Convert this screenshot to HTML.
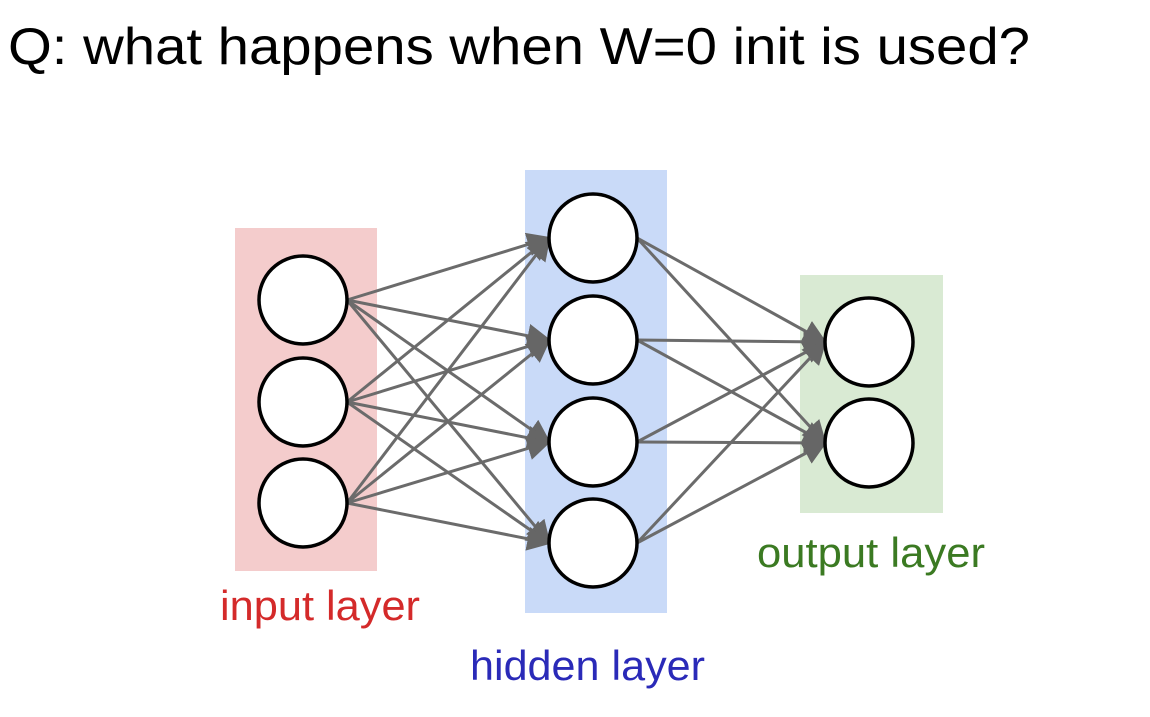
<!DOCTYPE html>
<html><head><meta charset="utf-8"><style>
html,body{margin:0;padding:0;background:#fff;width:1150px;height:717px;overflow:hidden}
</style></head><body>
<svg width="1150" height="717" xmlns="http://www.w3.org/2000/svg" font-family="Liberation Sans, Arial, sans-serif">
<text x="8" y="64" font-size="52" fill="#000" textLength="1022" lengthAdjust="spacingAndGlyphs">Q: what happens when W=0 init is used?</text>
<rect x="235" y="228" width="142" height="343" fill="#f4cccc"/>
<rect x="525" y="170" width="142" height="443" fill="#c9daf8"/>
<rect x="800" y="275" width="143" height="238" fill="#d9ead3"/>
<defs>
<marker id="b" viewBox="0 0 10 10" refX="9" refY="5" markerWidth="24" markerHeight="24" markerUnits="userSpaceOnUse" orient="auto"><path d="M0,0 L10,5 L0,10 z" fill="#666"/></marker></defs>
<g stroke="#6b6b6b" stroke-width="3" fill="none" marker-end="url(#b)">
<line x1="347" y1="300" x2="549" y2="238"/><line x1="347" y1="300" x2="549" y2="340"/><line x1="347" y1="300" x2="549" y2="442"/><line x1="347" y1="300" x2="549" y2="543"/>
<line x1="347" y1="402" x2="549" y2="238"/><line x1="347" y1="402" x2="549" y2="340"/><line x1="347" y1="402" x2="549" y2="442"/><line x1="347" y1="402" x2="549" y2="543"/>
<line x1="347" y1="503" x2="549" y2="238"/><line x1="347" y1="503" x2="549" y2="340"/><line x1="347" y1="503" x2="549" y2="442"/><line x1="347" y1="503" x2="549" y2="543"/>
<line x1="637" y1="238" x2="825" y2="342"/><line x1="637" y1="238" x2="825" y2="443"/>
<line x1="637" y1="340" x2="825" y2="342"/><line x1="637" y1="340" x2="825" y2="443"/>
<line x1="637" y1="442" x2="825" y2="342"/><line x1="637" y1="442" x2="825" y2="443"/>
<line x1="637" y1="543" x2="825" y2="342"/><line x1="637" y1="543" x2="825" y2="443"/>
</g>
<g fill="#fff" stroke="#000" stroke-width="3.5">
<circle cx="303" cy="300" r="44"/><circle cx="303" cy="402" r="44"/><circle cx="303" cy="503" r="44"/>
<circle cx="593" cy="238" r="44"/><circle cx="593" cy="340" r="44"/><circle cx="593" cy="442" r="44"/><circle cx="593" cy="543" r="44"/>
<circle cx="869" cy="342" r="44"/><circle cx="869" cy="443" r="44"/>
</g>
<text x="220" y="620" font-size="42" fill="#d42a2a" textLength="200" lengthAdjust="spacingAndGlyphs">input layer</text>
<text x="470" y="680" font-size="42" fill="#2a2ab8" textLength="235" lengthAdjust="spacingAndGlyphs">hidden layer</text>
<text x="757" y="567" font-size="42" fill="#3b7a22" textLength="228" lengthAdjust="spacingAndGlyphs">output layer</text>
</svg>
</body></html>
